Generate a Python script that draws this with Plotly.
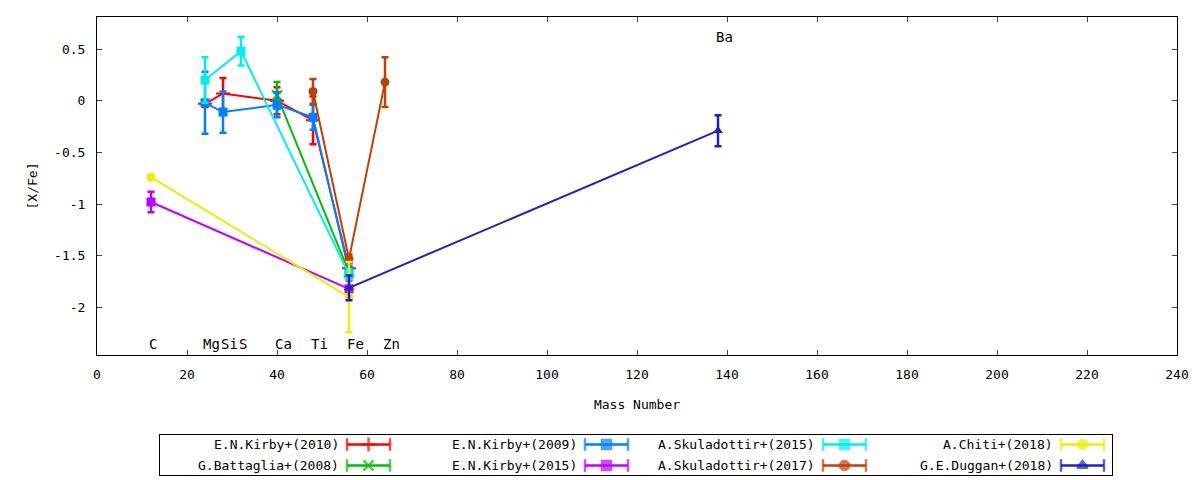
"""[X/Fe] versus mass number for one dwarf galaxy, from several literature sources."""
import plotly.graph_objects as go

FONT = "DejaVu Sans Mono"

# element markers along the mass axis
ELEMENTS = ["C", "Mg", "Si", "S", "Ca", "Ti", "Fe", "Zn", "Ba"]
MASS = [12, 24, 28, 32, 40, 48, 56, 64, 138]

# each source: mass numbers, [X/Fe], error
KIRBY2010_X = [24, 28, 40, 48, 56]
KIRBY2010_Y = [-0.03, 0.07, 0.00, -0.19, -1.62]
KIRBY2010_E = [0.03, 0.15, 0.13, 0.23, 0.05]

BATTAGLIA2008_X = [40, 56]
BATTAGLIA2008_Y = [0.05, -1.66]
BATTAGLIA2008_E = [0.13, 0.05]

KIRBY2009_X = [24, 28, 40, 48, 56]
KIRBY2009_Y = [-0.02, -0.11, -0.04, -0.16, -1.65]
KIRBY2009_E = [0.30, 0.20, 0.12, 0.12, 0.05]

KIRBY2015_X = [12, 56]
KIRBY2015_Y = [-0.98, -1.82]
KIRBY2015_E = [0.10, 0.08]

SKU2015_X = [24, 32, 56]
SKU2015_Y = [0.20, 0.48, -1.68]
SKU2015_E = [0.22, 0.14, 0.05]

SKU2017_X = [48, 56, 64]
SKU2017_Y = [0.09, -1.53, 0.18]
SKU2017_E = [0.12, 0.04, 0.24]

CHITI2018_X = [12, 56]
CHITI2018_Y = [-0.74, -1.90]
CHITI2018_E = [0.02, 0.34]

DUGGAN2018_X = [56, 138]
DUGGAN2018_Y = [-1.81, -0.29]
DUGGAN2018_E = [0.12, 0.15]

SERIES = [  # (name, x, y, err, colour, symbol) in gnuplot plot order
    ("E.N.Kirby+(2010)", KIRBY2010_X, KIRBY2010_Y, KIRBY2010_E, "#ff0000", "cross-thin"),
    ("G.Battaglia+(2008)", BATTAGLIA2008_X, BATTAGLIA2008_Y, BATTAGLIA2008_E, "#00c000", "x-thin"),
    ("E.N.Kirby+(2009)", KIRBY2009_X, KIRBY2009_Y, KIRBY2009_E, "#0080ff", "square"),
    ("E.N.Kirby+(2015)", KIRBY2015_X, KIRBY2015_Y, KIRBY2015_E, "#c000ff", "square"),
    ("A.Skuladottir+(2015)", SKU2015_X, SKU2015_Y, SKU2015_E, "#00eeee", "square"),
    ("A.Skuladottir+(2017)", SKU2017_X, SKU2017_Y, SKU2017_E, "#c04000", "circle"),
    ("A.Chiti+(2018)", CHITI2018_X, CHITI2018_Y, CHITI2018_E, "#eeee00", "circle"),
    ("G.E.Duggan+(2018)", DUGGAN2018_X, DUGGAN2018_Y, DUGGAN2018_E, "#2020c0", "triangle-up"),
]

Y_TICKS = [-2, -1.5, -1, -0.5, 0, 0.5]
Y_TICKTEXT = ["-2", "-1.5", "-1", "-0.5", "0", "0.5"]

fig = go.Figure()

for name, xs, ys, es, col, sym in SERIES:
    thin = sym.endswith("-thin")
    fig.add_trace(go.Scatter(
        x=xs, y=ys, mode="lines+markers", name=name, showlegend=False,
        line=dict(color=col, width=2),
        marker=dict(symbol=sym, size=10 if thin else 9, color=col,
                    line=dict(color=col, width=2 if thin else 0)),
        error_y=dict(type="data", array=es, color=col, thickness=2.5, width=3.5)))

# element labels: bottom row, Ba near the top
for el, m in zip(ELEMENTS, MASS):
    fig.add_annotation(x=m - 0.8, y=0.62 if el == "Ba" else -2.355, text=el,
                       showarrow=False, xanchor="left", yanchor="middle",
                       font=dict(family=FONT, size=14, color="black"))

# hand-made gnuplot-style key (text right, sample on the right) on a pixel-unit axis
KEY_ROWS = [444.5, 465.5]
for i, (name, xs, ys, es, col, sym) in enumerate(SERIES):
    c, r = divmod(i, 2)
    x0 = 347 + 238 * c
    yk = KEY_ROWS[r]
    thin = sym.endswith("-thin")
    fig.add_trace(go.Scatter(
        x=[x0, x0 + 21.5, x0 + 43], y=[yk, yk, yk], xaxis="x2", yaxis="y2",
        mode="lines+markers", showlegend=False, hoverinfo="skip",
        line=dict(color=col, width=2.5),
        marker=dict(symbol=["line-ns", sym, "line-ns"], size=[9, 10 if thin else 9, 9],
                    color=col, line=dict(color=col, width=2.5))))
    fig.add_annotation(x=x0 - 6, y=yk, xref="x2", yref="y2", text=name, showarrow=False,
                       xanchor="right", yanchor="middle",
                       font=dict(family=FONT, size=13, color="black"))

# page pixels (the browser puts the figure 8px in from the corner)
OFF = 8
W, H = 1200 - OFF, 480 - OFF
PL, PR, PT, PB = 97, 1177, 17, 355          # plot frame
KL, KR, KT, KB = 160, 1112, 435, 475        # key frame
L, R, T = PL - OFF, W - (PR - OFF), PT - OFF
area_w, area_h = W - L - R, H - T


def xfrac(px):
    return (px - OFF - L) / area_w


def yfrac(py):
    return (H - (py - OFF)) / area_h


fig.update_layout(
    width=W, height=H, paper_bgcolor="white", plot_bgcolor="white",
    margin=dict(l=L, r=R, t=T, b=0, autoexpand=False),
    font=dict(family=FONT, size=13, color="black"),
    showlegend=False,
    xaxis=dict(range=[0, 240], dtick=20, ticks="inside", ticklen=5, mirror="ticks",
               showline=True, linecolor="black", linewidth=1, showgrid=False,
               zeroline=False, anchor="y", ticklabelstandoff=7,
               title=dict(text="Mass Number", standoff=19, font=dict(size=13))),
    yaxis=dict(range=[-2.46, 0.81], domain=[yfrac(PB), 1], tickvals=Y_TICKS,
               ticktext=Y_TICKTEXT, ticks="inside", ticklen=5, mirror="ticks",
               showline=True, linecolor="black", linewidth=1, showgrid=False,
               zeroline=False, ticklabelstandoff=8,
               title=dict(text="[X/Fe]", standoff=13, font=dict(size=13))),
    xaxis2=dict(domain=[xfrac(KL), xfrac(KR)], range=[KL, KR],
                anchor="y2", showline=True, mirror=True, linecolor="black", linewidth=1,
                showgrid=False, zeroline=False, showticklabels=False, ticks=""),
    yaxis2=dict(domain=[yfrac(KB), yfrac(KT)], range=[KB, KT],
                anchor="x2", showline=True, mirror=True, linecolor="black", linewidth=1,
                showgrid=False, zeroline=False, showticklabels=False, ticks=""),
)

fig.write_html("out.html")
